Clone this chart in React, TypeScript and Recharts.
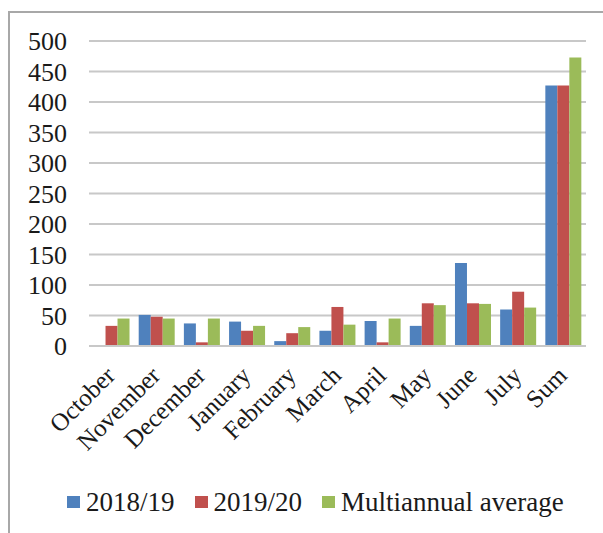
import React from 'react';
import { BarChart, Bar, XAxis, YAxis, CartesianGrid, Legend } from 'recharts';

const months = ['October', 'November', 'December', 'January', 'February', 'March', 'April', 'May', 'June', 'July', 'Sum'];
const season2018 = [0, 51, 37, 40, 8, 25, 41, 33, 136, 60, 427];
const season2019 = [33, 48, 6, 25, 21, 64, 6, 70, 70, 89, 427];
const multiannual = [45, 45, 45, 33, 31, 35, 45, 67, 69, 63, 473];
const yTicks = [0, 50, 100, 150, 200, 250, 300, 350, 400, 450, 500];

const series = [
  { key: 'y2018', name: '2018/19', color: '#4F81BD' },
  { key: 'y2019', name: '2019/20', color: '#C0504D' },
  { key: 'avg', name: 'Multiannual average', color: '#9BBB59' },
];

const data = months.map((m, i) => ({
  month: m,
  y2018: season2018[i],
  y2019: season2019[i],
  avg: multiannual[i],
}));

const FONT = 'Liberation Serif, Times New Roman, serif';
const GRID = '#c8c8c8';

const MonthTick = ({ x, y, payload }: any) => (
  <text
    x={x + 5}
    y={y + 31}
    transform={`rotate(-45, ${x + 5}, ${y + 31})`}
    textAnchor="end"
    fontFamily={FONT}
    fontSize={25}
    fill="#1a1a1a"
  >
    {payload.value}
  </text>
);

const LegendContent = () => (
  <div
    style={{
      display: 'flex',
      alignItems: 'center',
      paddingLeft: 67,
      fontFamily: FONT,
      fontSize: 27,
      lineHeight: '30px',
      color: '#1a1a1a',
    }}
  >
    {series.map((s) => (
      <div key={s.key} style={{ display: 'flex', alignItems: 'center', marginRight: 20 }}>
        <span style={{ width: 13, height: 12, background: s.color, marginRight: 6, display: 'inline-block' }} />
        <span style={{ fontFamily: FONT }}>{s.name}</span>
      </div>
    ))}
  </div>
);

export default function App() {
  return (
    <div style={{ position: 'absolute', left: 0, top: 0, width: 603, height: 533, background: '#fff' }}>
      <div
        style={{
          position: 'absolute',
          left: 8,
          top: 11,
          width: 600,
          height: 530,
          borderTop: '2px solid #a8a8a8',
          borderLeft: '2px solid #a8a8a8',
        }}
      />
      <div style={{ position: 'absolute', left: 0, top: 0 }}>
        <BarChart
          width={603}
          height={533}
          data={data}
          margin={{ top: 41, right: 17, left: 0, bottom: 87 }}
          barCategoryGap="10%"
          barGap={0}
        >
          <CartesianGrid vertical={false} stroke={GRID} strokeWidth={2} />
          <XAxis
            dataKey="month"
            interval={0}
            height={100}
            axisLine={{ stroke: GRID, strokeWidth: 2 }}
            tickLine={false}
            tickSize={0}
            tickMargin={0}
            tick={<MonthTick />}
          />
          <YAxis
            width={89}
            domain={[0, 500]}
            ticks={yTicks}
            interval={0}
            axisLine={false}
            tickLine={false}
            tickSize={0}
            tickMargin={22}
            tick={{ fill: '#1a1a1a', fontSize: 26, fontFamily: FONT }}
          />
          <Legend
            verticalAlign="middle"
            align="center"
            content={<LegendContent />}
            wrapperStyle={{ top: 487, left: 0, width: 603 }}
          />
          {series.map((s) => (
            <Bar key={s.key} dataKey={s.key} name={s.name} fill={s.color} isAnimationActive={false} />
          ))}
        </BarChart>
      </div>
    </div>
  );
}
